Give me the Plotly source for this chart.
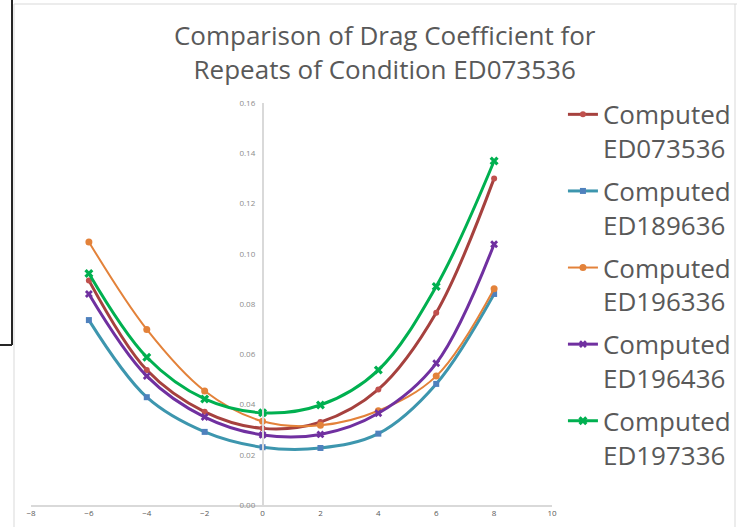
import plotly.graph_objects as go

angles = [-6, -4, -2, 0, 2, 4, 6, 8]

series_names = ["Computed<br>ED073536", "Computed<br>ED189636", "Computed<br>ED196336",
                "Computed<br>ED196436", "Computed<br>ED197336"]

cd_ed073536 = [0.0894, 0.0537, 0.0371, 0.0305, 0.0330, 0.0460, 0.0765, 0.1300]
cd_ed189636 = [0.0736, 0.0429, 0.0291, 0.0230, 0.0227, 0.0284, 0.0482, 0.0840]
cd_ed196336 = [0.1047, 0.0699, 0.0454, 0.0333, 0.0317, 0.0375, 0.0513, 0.0861]
cd_ed196436 = [0.0840, 0.0513, 0.0350, 0.0279, 0.0281, 0.0365, 0.0564, 0.1038]
cd_ed197336 = [0.0921, 0.0588, 0.0422, 0.0367, 0.0398, 0.0537, 0.0870, 0.1369]

x_ticks = [-8, -6, -4, -2, 0, 2, 4, 6, 8, 10]
y_ticks = [0.00, 0.02, 0.04, 0.06, 0.08, 0.10, 0.12, 0.14, 0.16]

styles = [
    dict(line="#A6413E", marker="#C0504D", symbol="circle", size=6, width=3),
    dict(line="#3D96AE", marker="#4F81BD", symbol="square", size=6, width=3),
    dict(line="#E3823A", marker="#E3823A", symbol="circle", size=7, width=2),
    dict(line="#7030A0", marker="#7030A0", symbol="x", size=7, width=3),
    dict(line="#00B050", marker="#00B050", symbol="x", size=8, width=3),
]

all_values = [cd_ed073536, cd_ed189636, cd_ed196336, cd_ed196436, cd_ed197336]

fig = go.Figure()
for i, (name, vals, st) in enumerate(zip(series_names, all_values, styles)):
    fig.add_trace(go.Scatter(
        x=angles, y=vals, name=name, mode="lines+markers", legendgroup=f"g{i}",
        line=dict(color=st["line"], width=st["width"], shape="spline", smoothing=1.0),
        marker=dict(color=st["marker"], symbol=st["symbol"], size=st["size"],
                    line=dict(width=0)),
    ))

x_min, x_max = -8, 10
zero_pos = (0 - x_min) / (x_max - x_min)

fig.update_layout(
    width=737, height=527,
    margin=dict(l=31, r=185, t=103, b=22, autoexpand=False),
    paper_bgcolor="white", plot_bgcolor="white",
    font=dict(family="Open Sans", color="#595959"),
    title=dict(text="Comparison of Drag Coefficient for<br>Repeats of Condition ED073536",
               x=0.522, xanchor="center", y=0.915, yanchor="middle",
               font=dict(size=26, color="#595959")),
    xaxis=dict(range=[x_min, x_max], tickvals=x_ticks, showgrid=False, zeroline=False,
               showline=True, linecolor="#D9D9D9", linewidth=1.5, automargin=False,
               tickfont=dict(size=8, color="#595959"), ticks="", ticklen=0),
    yaxis=dict(range=[0, 0.16], tickvals=y_ticks, tickformat=".2f",
               anchor="free", position=zero_pos, automargin=False,
               showgrid=False, zeroline=False, showline=True, linecolor="#D9D9D9",
               linewidth=1.5, tickfont=dict(size=8, color="#8C8C8C"), ticks="",
               ticklabelstandoff=5),
    legend=dict(x=1.021, y=1.03, xanchor="left", yanchor="top", valign="top",
                font=dict(size=26, color="#595959"), itemwidth=30,
                tracegroupgap=6, bgcolor="rgba(0,0,0,0)", maxheight=520),
    showlegend=True,
)

W, H = 737, 527
pl, pr, pt, pb = 31, 185, 103, 22
pw, ph = W - pl - pr, H - pt - pb

def px(xp):
    return (xp - pl) / pw

def py(yp):
    return (H - pb - yp) / ph

shapes = [
    dict(type="line", xref="paper", yref="paper", x0=px(14), x1=px(737), y0=py(4), y1=py(4),
         line=dict(color="#D9D9D9", width=1)),
    dict(type="line", xref="paper", yref="paper", x0=px(14), x1=px(14), y0=py(4), y1=py(527),
         line=dict(color="#D9D9D9", width=1)),
    dict(type="line", xref="paper", yref="paper", x0=px(735), x1=px(735), y0=py(4), y1=py(527),
         line=dict(color="#D9D9D9", width=1)),
    dict(type="line", xref="paper", yref="paper", x0=px(12), x1=px(12), y0=py(0), y1=py(345),
         line=dict(color="#262626", width=2)),
    dict(type="line", xref="paper", yref="paper", x0=px(0), x1=px(12), y0=py(345), y1=py(345),
         line=dict(color="#262626", width=2)),
]
fig.update_layout(shapes=shapes)

fig.write_html("out.html", config={"displayModeBar": False},
               post_script="document.body.style.margin='0px';")
